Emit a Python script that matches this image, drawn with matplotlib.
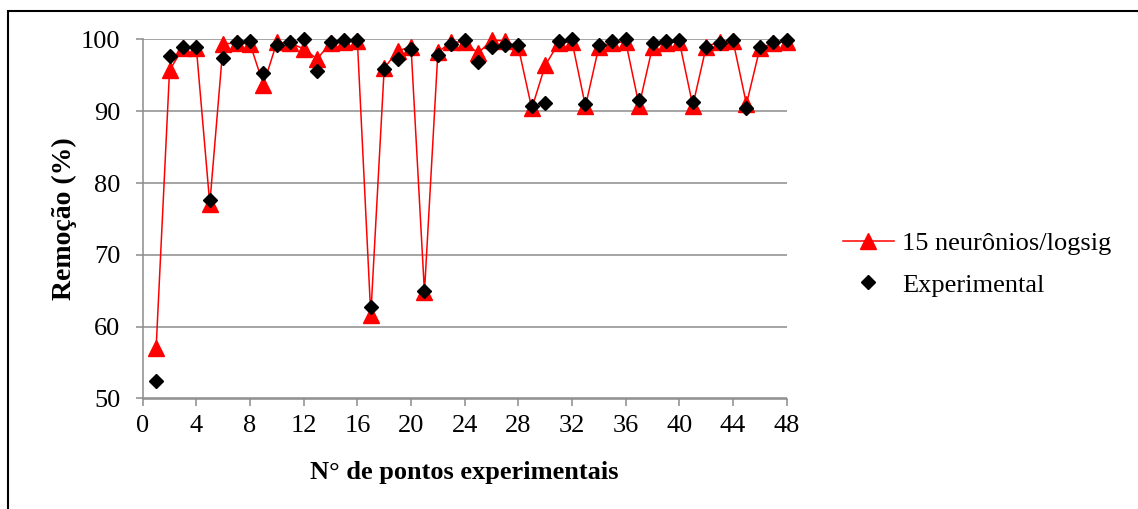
import numpy as np
import matplotlib.pyplot as plt
from matplotlib.patches import Rectangle

# pontos experimentais 1..48
pontos = np.arange(1, 49)

# remoção prevista pela rede (15 neurônios, logsig)
rede = [57.0, 95.7, 98.8, 98.8, 77.1, 99.4, 99.5, 99.4, 93.7, 99.6,
        99.5, 98.7, 97.3, 99.5, 99.6, 99.8, 61.6, 96.0, 98.4, 99.0,
        64.8, 98.2, 99.7, 99.6, 98.1, 99.9, 99.8, 98.9, 90.4, 96.4,
        99.5, 99.7, 90.7, 99.0, 99.5, 99.7, 90.8, 99.0, 99.5, 99.7,
        90.8, 99.0, 99.7, 99.8, 91.0, 98.8, 99.5, 99.7]

# remoção experimental
experimental = [52.4, 97.7, 98.9, 99.0, 77.7, 97.4, 99.6, 99.8, 95.3, 99.3,
                99.6, 100.0, 95.6, 99.7, 99.9, 99.9, 62.8, 95.9, 97.3, 98.7,
                65.0, 97.9, 99.4, 99.9, 96.9, 98.9, 99.3, 99.3, 90.8, 91.1,
                99.8, 100.0, 91.0, 99.3, 99.8, 100.0, 91.6, 99.5, 99.8, 99.9,
                91.3, 99.0, 99.5, 99.9, 90.5, 98.9, 99.7, 99.9]

plt.rcParams['font.family'] = ['Liberation Serif', 'DejaVu Serif']
plt.rcParams['font.size'] = 19

W, H = 1138, 509
fig = plt.figure(figsize=(W / 100, H / 100), dpi=100)
ax = fig.add_axes([142.7 / W, 1 - 398.5 / H, 644 / W, 359 / H])

cinza = '#8c8c8c'
ax.plot(pontos, rede, color='red', lw=1.1, marker='^', ms=11,
        mec='red', mfc='red', label='15 neurônios/logsig', zorder=3,
        clip_on=False)
ax.plot(pontos, experimental, ls='none', marker='D', ms=7.5,
        color='black', label='Experimental', zorder=4, clip_on=False)

ax.set_xlim(0, 48)
ax.set_ylim(50, 100)
ax.set_xticks(np.arange(0, 49, 4))
ax.set_yticks(np.arange(50, 101, 10))
ax.yaxis.grid(True, color=cinza, lw=1.1)
ax.set_axisbelow(True)
for s in ['top', 'right']:
    ax.spines[s].set_visible(False)
for s in ['left', 'bottom']:
    ax.spines[s].set_color(cinza)
    ax.spines[s].set_linewidth(1.1)
ax.tick_params(axis='y', color=cinza, length=5, width=1.1, pad=11)
ax.tick_params(axis='x', color=cinza, length=5, width=1.1, pad=7)

ax.set_ylabel('Remoção (%)', fontweight='bold', fontsize=20, labelpad=3)
ax.set_xlabel('N° de pontos experimentais', fontweight='bold', labelpad=17)

fig.legend(loc='center left', bbox_to_anchor=(819 / W, 1 - 264 / H),
           frameon=False, numpoints=1, handlelength=1.95,
           handletextpad=0.3, labelspacing=0.7)

# moldura do gráfico
fig.patches.append(Rectangle((8 / W, -0.1), 1.2, 1.1 - 11 / H,
                             transform=fig.transFigure, fill=False,
                             edgecolor='black', lw=1.5))

fig.savefig('out.png', dpi=100)
